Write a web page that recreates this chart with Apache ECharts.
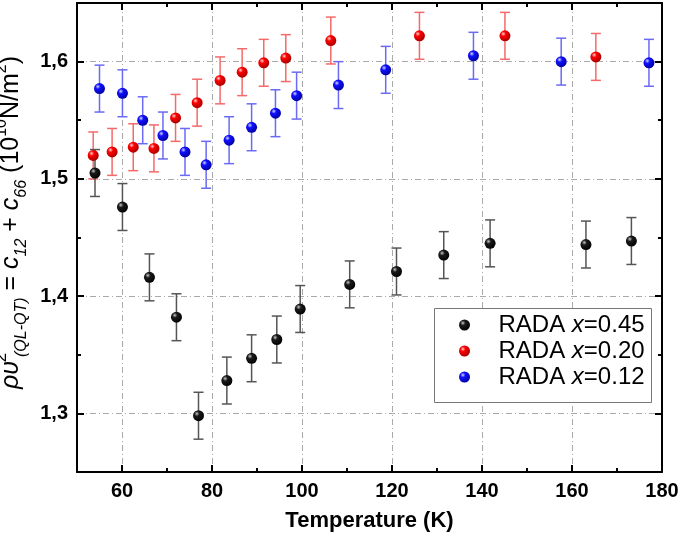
<!DOCTYPE html>
<html>
<head>
<meta charset="utf-8">
<script src="https://cdn.jsdelivr.net/npm/echarts@6/dist/echarts.min.js"></script>
<style>
  html, body { margin: 0; padding: 0; background: #fff; }
  #chart { width: 680px; height: 541px; }
</style>
</head>
<body>
<div id="chart"></div>
<script>
// RADA x=0.45
const blackT = [54.0, 60.1, 66.1, 72.1, 77.0, 83.3, 88.8, 94.4, 99.6, 110.6, 121.0, 131.5, 141.8, 163.1, 173.2];
const blackV = [1.505, 1.476, 1.416, 1.382, 1.298, 1.328, 1.347, 1.363, 1.389, 1.410, 1.421, 1.435, 1.445, 1.444, 1.447];
const blackE = [0.02, 0.02, 0.02, 0.02, 0.02, 0.02, 0.02, 0.02, 0.02, 0.02, 0.02, 0.02, 0.02, 0.02, 0.02];
// RADA x=0.20
const redT = [53.6, 57.8, 62.5, 67.1, 71.9, 76.7, 81.8, 86.7, 91.5, 96.4, 106.4, 126.1, 145.1, 165.3];
const redV = [1.520, 1.523, 1.527, 1.526, 1.552, 1.565, 1.584, 1.591, 1.599, 1.603, 1.618, 1.622, 1.622, 1.604];
const redE = [0.02, 0.02, 0.02, 0.02, 0.02, 0.02, 0.02, 0.02, 0.02, 0.02, 0.02, 0.02, 0.02, 0.02];
// RADA x=0.12
const blueT = [55.0, 60.1, 64.6, 69.1, 74.0, 78.7, 83.8, 88.8, 94.1, 98.8, 108.1, 118.6, 138.1, 157.6, 177.1];
const blueV = [1.577, 1.573, 1.550, 1.537, 1.523, 1.512, 1.533, 1.544, 1.556, 1.571, 1.580, 1.593, 1.605, 1.600, 1.599];
const blueE = [0.02, 0.02, 0.02, 0.02, 0.02, 0.02, 0.02, 0.02, 0.02, 0.02, 0.02, 0.02, 0.02, 0.02, 0.02];

const seriesNames = ["RADA x=0.45", "RADA x=0.20", "RADA x=0.12"];

// ticks
const xMajor = [60, 80, 100, 120, 140, 160, 180];
const xMinor = [50, 70, 90, 110, 130, 150, 170];
const yMajor = [1.3, 1.4, 1.5, 1.6];
const yMinor = [1.25, 1.35, 1.45, 1.55, 1.65];

const FONT = "Liberation Sans";
let myChart = echarts.init(document.getElementById("chart"));

function ball(light, mid, dark) {
  return {
    type: "radial", x: 0.35, y: 0.32, r: 0.75,
    colorStops: [
      { offset: 0, color: light },
      { offset: 0.3, color: mid },
      { offset: 1, color: dark },
    ],
  };
}

function pointSeries(name, xs, ys, fill) {
  return {
    name: name,
    type: "scatter",
    xAxisIndex: 0,
    yAxisIndex: 0,
    symbolSize: 11,
    data: xs.map((x, i) => [x, ys[i]]),
    itemStyle: { color: fill, opacity: 1 },
    z: 5,
  };
}

// error bars drawn through the axes with a custom series
function errSeries(name, xs, ys, es, color) {
  return {
    name: name + " err",
    type: "custom",
    xAxisIndex: 0,
    yAxisIndex: 0,
    silent: true,
    z: 3,
    data: xs.map((x, i) => [x, ys[i] - es[i], ys[i] + es[i]]),
    encode: { x: 0, y: [1, 2] },
    renderItem: function (params, api) {
      const lo = api.coord([api.value(0), api.value(1)]);
      const hi = api.coord([api.value(0), api.value(2)]);
      const w = 5;
      const st = { stroke: color, lineWidth: 1.5 };
      return {
        type: "group",
        children: [
          { type: "line", shape: { x1: lo[0], y1: lo[1], x2: hi[0], y2: hi[1] }, style: st },
          { type: "line", shape: { x1: lo[0] - w, y1: lo[1], x2: lo[0] + w, y2: lo[1] }, style: st },
          { type: "line", shape: { x1: hi[0] - w, y1: hi[1], x2: hi[0] + w, y2: hi[1] }, style: st },
        ],
      };
    },
  };
}

const axisLineStyle = { show: true, lineStyle: { color: "#000", width: 2 } };
const gridLine = { show: true, lineStyle: { color: "#aaa", width: 1, type: [6, 3, 1, 3] } };

function xAx(pos, ticks, len, main) {
  return {
    type: "value", position: pos, min: 50, max: 180,
    axisLine: main ? axisLineStyle : { show: false },
    axisTick: { show: true, inside: true, length: len, customValues: ticks, lineStyle: { color: "#000", width: 2 } },
    axisLabel: main && pos === "bottom" ? {
      show: true, customValues: xMajor, color: "#000", fontFamily: FONT, fontSize: 20, fontWeight: "bold", margin: 9,
    } : { show: false },
    splitLine: main && pos === "bottom" ? gridLine : { show: false },
    name: main && pos === "bottom" ? "Temperature (K)" : "",
    nameLocation: "middle",
    nameGap: 38,
    nameTextStyle: { color: "#000", fontFamily: FONT, fontSize: 22, fontWeight: "bold" },
  };
}

function yAx(pos, ticks, len, main) {
  const isLeft = main && pos === "left";
  return {
    type: "value", position: pos, min: 1.25, max: 1.65,
    axisLine: main ? axisLineStyle : { show: false },
    axisTick: { show: true, inside: true, length: len, customValues: ticks, lineStyle: { color: "#000", width: 2 } },
    axisLabel: isLeft ? {
      show: true, customValues: yMajor, color: "#000", fontFamily: FONT, fontSize: 20, fontWeight: "bold", margin: 9,
      formatter: (v) => v.toFixed(1).replace(".", ","),
    } : { show: false },
    splitLine: isLeft ? gridLine : { show: false },
    name: isLeft
      ? "{i|ρυ}{s0|2}{sb|(QL-QT)}{n| = }{i|c}{sb|12}{n| + }{i|c}{sb|66}{n| (10}{sp|10}{n|N/m}{sp|2}{n|)}"
      : "",
    nameLocation: "middle",
    nameGap: 36,
    nameTextStyle: {
      color: "#000", fontFamily: FONT, fontSize: 25,
      padding: [0, 0, 0, 30],
      rich: {
        n: { fontFamily: FONT, fontSize: 25, lineHeight: 36, color: "#000" },
        i: { fontFamily: FONT, fontSize: 25, fontStyle: "italic", lineHeight: 36, color: "#000" },
        sp: { fontFamily: FONT, fontSize: 16, lineHeight: 17, verticalAlign: "top", color: "#000" },
        s0: { fontFamily: FONT, fontSize: 17, lineHeight: 17, verticalAlign: "top", width: 1, padding: [0, 0, 0, 3], color: "#000" },
        sb: { fontFamily: FONT, fontSize: 16, fontStyle: "italic", lineHeight: 17, verticalAlign: "bottom", color: "#000" },
      },
    },
  };
}

let option = {
  animation: false,
  backgroundColor: "#fff",
  grid: { left: 77, right: 18, top: 3, bottom: 69, outerBoundsMode: "none" },
  // legend frame
  graphic: [
    {
      type: "rect", left: 434, top: 308, z: 3,
      shape: { width: 217, height: 94 },
      style: { fill: "#fff", stroke: "#777", lineWidth: 1 },
    },
  ],
  xAxis: [
    xAx("bottom", xMajor, 7, true),
    xAx("bottom", xMinor, 4, false),
    xAx("top", xMajor, 7, true),
    xAx("top", xMinor, 4, false),
  ],
  yAxis: [
    yAx("left", yMajor, 7, true),
    yAx("left", yMinor, 4, false),
    yAx("right", yMajor, 7, true),
    yAx("right", yMinor, 4, false),
  ],
  legend: {
    data: seriesNames,
    orient: "vertical",
    left: 453,
    top: 308,
    z: 10,
    padding: [5, 4, 6, 6],
    itemGap: 2,
    itemWidth: 50,
    itemHeight: 11,
    icon: "circle",
    formatter: function (name) {
      const p = name.split(" x");
      return "{n|" + p[0] + " }{i|x}{n|" + p[1] + "}";
    },
    textStyle: {
      padding: [0, 0, 0, 4],
      rich: {
        n: { fontFamily: FONT, fontSize: 24, lineHeight: 27, color: "#000" },
        i: { fontFamily: FONT, fontSize: 24, fontStyle: "italic", lineHeight: 27, color: "#000" },
      },
    },
  },
  series: [
    errSeries(seriesNames[1], redT, redV, redE, "#f46a6a"),
    errSeries(seriesNames[2], blueT, blueV, blueE, "#6a6af4"),
    errSeries(seriesNames[0], blackT, blackV, blackE, "#555"),
    pointSeries(seriesNames[1], redT, redV, ball("#ffd8d8", "#ff0000", "#a00000")),
    pointSeries(seriesNames[2], blueT, blueV, ball("#d8d8ff", "#1010ff", "#00009a")),
    pointSeries(seriesNames[0], blackT, blackV, ball("#c8c8c8", "#1a1a1a", "#000")),
  ],
};
myChart.setOption(option);
window.addEventListener("resize", function () {
  myChart.resize();
});
</script>
</body>
</html>
